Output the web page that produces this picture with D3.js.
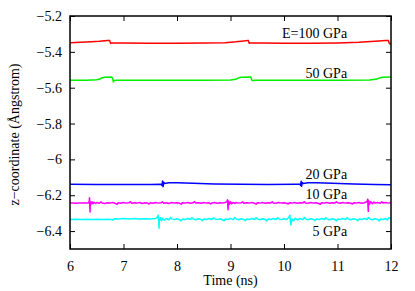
<!DOCTYPE html>
<html>
<head>
<meta charset="utf-8">
<script src="https://d3js.org/d3.v7.min.js"></script>
<style>
  body { margin: 0; background: #fff; }
  svg text { font-family: 'Liberation Serif', 'Times New Roman', Times, serif; fill: #000; }
</style>
</head>
<body>
<svg width="415" height="291"></svg>
<script>
// axis ticks
const xTicks = [6, 7, 8, 9, 10, 11, 12];
const yTicks = [-5.2, -5.4, -5.6, -5.8, -6, -6.2, -6.4];

// E = 100 GPa
const e100 = [[6.00,-5.349],[6.20,-5.347],[6.40,-5.344],[6.55,-5.341],[6.70,-5.337],[6.74,-5.336],[6.76,-5.353],[6.78,-5.350],
  [7.00,-5.351],[7.50,-5.352],[8.00,-5.352],[8.50,-5.351],[8.90,-5.349],[9.10,-5.344],[9.25,-5.339],[9.33,-5.336],[9.35,-5.352],
  [9.37,-5.350],[9.60,-5.351],[10.00,-5.352],[10.50,-5.352],[11.00,-5.350],[11.40,-5.347],[11.70,-5.341],[11.90,-5.337],
  [11.95,-5.336],[11.97,-5.354],[12.00,-5.358]];

// 50 GPa
const e50 = [[6.00,-5.559],[6.30,-5.558],[6.50,-5.556],[6.56,-5.552],[6.60,-5.544],[6.65,-5.542],[6.78,-5.541],[6.80,-5.550],
  [6.81,-5.567],[6.83,-5.560],[6.86,-5.558],[7.50,-5.559],[8.50,-5.559],[9.00,-5.557],[9.10,-5.553],[9.16,-5.544],[9.20,-5.542],
  [9.38,-5.541],[9.40,-5.558],[9.42,-5.561],[9.45,-5.559],[10.00,-5.559],[11.00,-5.559],[11.60,-5.557],[11.74,-5.552],
  [11.80,-5.544],[11.85,-5.542],[12.00,-5.541]];

// 20 GPa
const e20 = [[6.00,-6.139],[6.50,-6.140],[7.00,-6.140],[7.50,-6.140],[7.70,-6.139],[7.72,-6.145],[7.73,-6.120],[7.74,-6.152],
  [7.75,-6.128],[7.77,-6.134],[7.85,-6.131],[8.00,-6.131],[8.30,-6.133],[8.70,-6.137],[9.20,-6.139],[9.70,-6.140],[10.20,-6.139],
  [10.30,-6.139],[10.31,-6.145],[10.32,-6.122],[10.33,-6.150],[10.34,-6.129],[10.36,-6.134],[10.45,-6.131],[10.60,-6.131],
  [10.90,-6.133],[11.30,-6.137],[11.70,-6.140],[12.00,-6.142]];

// 10 GPa
const e10 = [[6.00,-6.244],[6.05,-6.243],[6.10,-6.245],[6.15,-6.243],[6.20,-6.244],[6.25,-6.243],[6.30,-6.244],[6.35,-6.243],
  [6.36,-6.230],[6.365,-6.214],[6.37,-6.262],[6.375,-6.294],[6.38,-6.236],[6.39,-6.250],[6.41,-6.236],[6.43,-6.248],[6.45,-6.239],
  [6.48,-6.246],[6.50,-6.241],[6.55,-6.245],[6.58,-6.237],[6.60,-6.243],[6.65,-6.246],[6.70,-6.242],[6.75,-6.244],[6.80,-6.241],
  [6.85,-6.246],[6.88,-6.250],[6.90,-6.242],[6.95,-6.245],[7.00,-6.241],[7.05,-6.244],[7.10,-6.242],[7.13,-6.236],[7.15,-6.245],
  [7.20,-6.242],[7.25,-6.244],[7.30,-6.241],[7.35,-6.246],[7.40,-6.242],[7.45,-6.244],[7.48,-6.249],[7.50,-6.242],[7.55,-6.245],
  [7.60,-6.241],[7.65,-6.244],[7.70,-6.242],[7.73,-6.237],[7.75,-6.245],[7.80,-6.242],[7.85,-6.246],[7.90,-6.241],[7.95,-6.244],
  [8.00,-6.242],[8.05,-6.245],[8.08,-6.250],[8.10,-6.242],[8.15,-6.244],[8.20,-6.241],[8.25,-6.245],[8.30,-6.242],[8.33,-6.236],
  [8.35,-6.244],[8.40,-6.242],[8.45,-6.245],[8.50,-6.241],[8.55,-6.244],[8.60,-6.242],[8.63,-6.249],[8.65,-6.243],[8.70,-6.241],
  [8.75,-6.245],[8.80,-6.242],[8.85,-6.244],[8.90,-6.241],
  [8.93,-6.236],[8.945,-6.226],[8.95,-6.262],[8.955,-6.281],[8.96,-6.232],[8.98,-6.251],[9.00,-6.236],[9.02,-6.248],
  [9.05,-6.240],[9.08,-6.246],[9.10,-6.241],[9.15,-6.244],[9.20,-6.242],[9.23,-6.237],[9.25,-6.245],[9.30,-6.242],[9.35,-6.244],
  [9.40,-6.241],[9.45,-6.245],[9.48,-6.250],[9.50,-6.242],[9.55,-6.244],[9.60,-6.241],[9.65,-6.245],[9.70,-6.242],[9.75,-6.244],
  [9.78,-6.237],[9.80,-6.243],[9.85,-6.245],[9.90,-6.241],[9.95,-6.244],[10.00,-6.242],[10.05,-6.245],[10.08,-6.249],
  [10.10,-6.242],[10.15,-6.244],[10.20,-6.241],[10.25,-6.245],[10.30,-6.242],[10.35,-6.244],[10.38,-6.236],[10.40,-6.243],
  [10.45,-6.245],[10.50,-6.241],[10.55,-6.244],[10.60,-6.242],[10.65,-6.246],[10.68,-6.250],[10.70,-6.242],[10.75,-6.244],
  [10.80,-6.241],[10.85,-6.245],[10.90,-6.242],[10.95,-6.244],[10.98,-6.237],[11.00,-6.242],[11.05,-6.245],[11.10,-6.241],
  [11.15,-6.244],[11.20,-6.242],[11.25,-6.245],[11.28,-6.249],[11.30,-6.242],[11.35,-6.244],[11.40,-6.241],[11.45,-6.245],
  [11.50,-6.242],
  [11.55,-6.236],[11.565,-6.222],[11.57,-6.262],[11.575,-6.290],[11.58,-6.230],[11.60,-6.251],[11.62,-6.235],[11.65,-6.247],
  [11.68,-6.238],[11.70,-6.244],[11.75,-6.241],[11.80,-6.245],[11.83,-6.236],[11.85,-6.243],[11.90,-6.241],[11.95,-6.244],
  [12.00,-6.240]];

// 5 GPa
const e5 = [[6.00,-6.335],[6.10,-6.334],[6.20,-6.336],[6.30,-6.334],[6.40,-6.335],[6.50,-6.334],[6.60,-6.336],[6.70,-6.334],
  [6.78,-6.335],[6.80,-6.338],[6.83,-6.331],[6.90,-6.332],[7.00,-6.330],[7.10,-6.332],[7.20,-6.330],[7.30,-6.332],[7.40,-6.331],
  [7.50,-6.332],[7.60,-6.330],[7.63,-6.324],[7.645,-6.312],[7.66,-6.350],[7.665,-6.384],[7.67,-6.342],[7.69,-6.326],[7.71,-6.342],
  [7.73,-6.328],[7.76,-6.339],[7.80,-6.330],[7.85,-6.337],[7.88,-6.324],[7.90,-6.332],[7.95,-6.336],[8.00,-6.331],[8.05,-6.337],
  [8.08,-6.343],[8.10,-6.333],[8.15,-6.336],[8.20,-6.330],[8.25,-6.335],[8.28,-6.325],[8.30,-6.332],[8.35,-6.337],[8.40,-6.331],
  [8.45,-6.335],[8.48,-6.342],[8.50,-6.333],[8.55,-6.336],[8.60,-6.330],[8.65,-6.335],[8.68,-6.325],[8.70,-6.332],[8.75,-6.336],
  [8.80,-6.331],[8.85,-6.337],[8.88,-6.343],[8.90,-6.333],[8.95,-6.335],[9.00,-6.330],[9.05,-6.336],[9.08,-6.324],[9.10,-6.332],
  [9.15,-6.337],[9.20,-6.331],[9.25,-6.335],[9.28,-6.342],[9.30,-6.333],[9.35,-6.336],[9.40,-6.330],[9.45,-6.335],[9.48,-6.325],
  [9.50,-6.332],[9.55,-6.337],[9.60,-6.331],[9.65,-6.335],[9.68,-6.343],[9.70,-6.333],[9.75,-6.336],[9.80,-6.330],[9.85,-6.335],
  [9.88,-6.325],[9.90,-6.332],[9.95,-6.336],[10.00,-6.331],[10.05,-6.335],
  [10.09,-6.324],[10.11,-6.312],[10.12,-6.348],[10.13,-6.366],[10.15,-6.332],[10.18,-6.343],[10.21,-6.328],[10.25,-6.338],
  [10.30,-6.330],[10.35,-6.336],[10.38,-6.324],[10.40,-6.332],[10.45,-6.337],[10.50,-6.331],[10.55,-6.335],[10.58,-6.342],
  [10.60,-6.333],[10.65,-6.336],[10.70,-6.330],[10.75,-6.335],[10.78,-6.325],[10.80,-6.332],[10.85,-6.337],[10.90,-6.331],
  [10.95,-6.335],[10.98,-6.343],[11.00,-6.333],[11.05,-6.336],[11.10,-6.330],[11.15,-6.335],[11.18,-6.325],[11.20,-6.332],
  [11.25,-6.337],[11.30,-6.331],[11.35,-6.335],[11.38,-6.342],[11.40,-6.333],[11.45,-6.336],[11.50,-6.330],[11.55,-6.335],
  [11.58,-6.324],[11.60,-6.332],[11.65,-6.337],[11.70,-6.331],[11.75,-6.335],[11.78,-6.343],[11.80,-6.333],[11.85,-6.336],
  [11.90,-6.330],[11.93,-6.338],[11.96,-6.325],[12.00,-6.331]];

const seriesList = [
  { name: "E=100 GPa", data: e100, color: "#ff0000", labelY: -5.322 },
  { name: "50 GPa",    data: e50,  color: "#00ee00", labelY: -5.545 },
  { name: "20 GPa",    data: e20,  color: "#0000ff", labelY: -6.110 },
  { name: "10 GPa",    data: e10,  color: "#ff00ff", labelY: -6.221 },
  { name: "5 GPa",     data: e5,   color: "#00ffff", labelY: -6.428 }
];

const svg = d3.select("svg");
const margin = {top: 16, right: 24, bottom: 42, left: 70};
const width = 415 - margin.left - margin.right;
const height = 291 - margin.top - margin.bottom;

const g = svg.append("g").attr("transform", "translate(" + margin.left + "," + margin.top + ")");

const x = d3.scaleLinear().domain([6, 12]).range([0, width]);
const y = d3.scaleLinear().domain([-6.5, -5.2]).range([height, 0]);

const fmt = d => String(d).replace("-", "\u2212");

// clip lines to the frame
g.append("clipPath").attr("id", "clip")
  .append("rect").attr("width", width).attr("height", height);

const line = d3.line().x(d => x(d[0])).y(d => y(d[1]));

g.append("g").attr("clip-path", "url(#clip)")
  .selectAll("path")
  .data(seriesList)
  .join("path")
    .attr("d", d => line(d.data))
    .attr("fill", "none")
    .attr("stroke", d => d.color)
    .attr("stroke-width", 1.5)
    .attr("stroke-linejoin", "round");

// axes: ticks inward on all four sides
function styleAxis(sel) {
  sel.select(".domain").remove();
  sel.selectAll("line").attr("stroke", "#000").attr("stroke-width", 1);
  sel.selectAll("text").attr("font-size", 14).attr("fill", "#000");
}

g.append("g").attr("transform", "translate(0," + height + ")")
  .call(d3.axisBottom(x).tickValues(xTicks).tickSizeInner(-5).tickSizeOuter(0).tickPadding(12).tickFormat(fmt))
  .call(styleAxis);
g.append("g")
  .call(d3.axisTop(x).tickValues(xTicks).tickSizeInner(-5).tickSizeOuter(0).tickFormat(""))
  .call(styleAxis);
g.append("g")
  .call(d3.axisLeft(y).tickValues(yTicks).tickSizeInner(-5).tickSizeOuter(0).tickPadding(8).tickFormat(fmt))
  .call(styleAxis);
g.append("g").attr("transform", "translate(" + width + ",0)")
  .call(d3.axisRight(y).tickValues(yTicks).tickSizeInner(-5).tickSizeOuter(0).tickFormat(""))
  .call(styleAxis);

// frame
g.append("rect")
  .attr("width", width).attr("height", height)
  .attr("fill", "none").attr("stroke", "#000").attr("stroke-width", 1.5);

// series labels
g.selectAll(".slabel")
  .data(seriesList)
  .join("text")
    .attr("class", "slabel")
    .attr("x", x(11.18))
    .attr("y", d => y(d.labelY))
    .attr("text-anchor", "end")
    .attr("font-size", 14)
    .text(d => d.name);

// axis titles
svg.append("text")
  .attr("x", margin.left + width / 2)
  .attr("y", 285)
  .attr("text-anchor", "middle")
  .attr("font-size", 14)
  .text("Time (ns)");

svg.append("text")
  .attr("transform", "translate(19," + (margin.top + height / 2 + 2) + ") rotate(-90)")
  .attr("text-anchor", "middle")
  .attr("font-size", 14)
  .text("z\u2212coordinate (Ångstrom)");
</script>
</body>
</html>
